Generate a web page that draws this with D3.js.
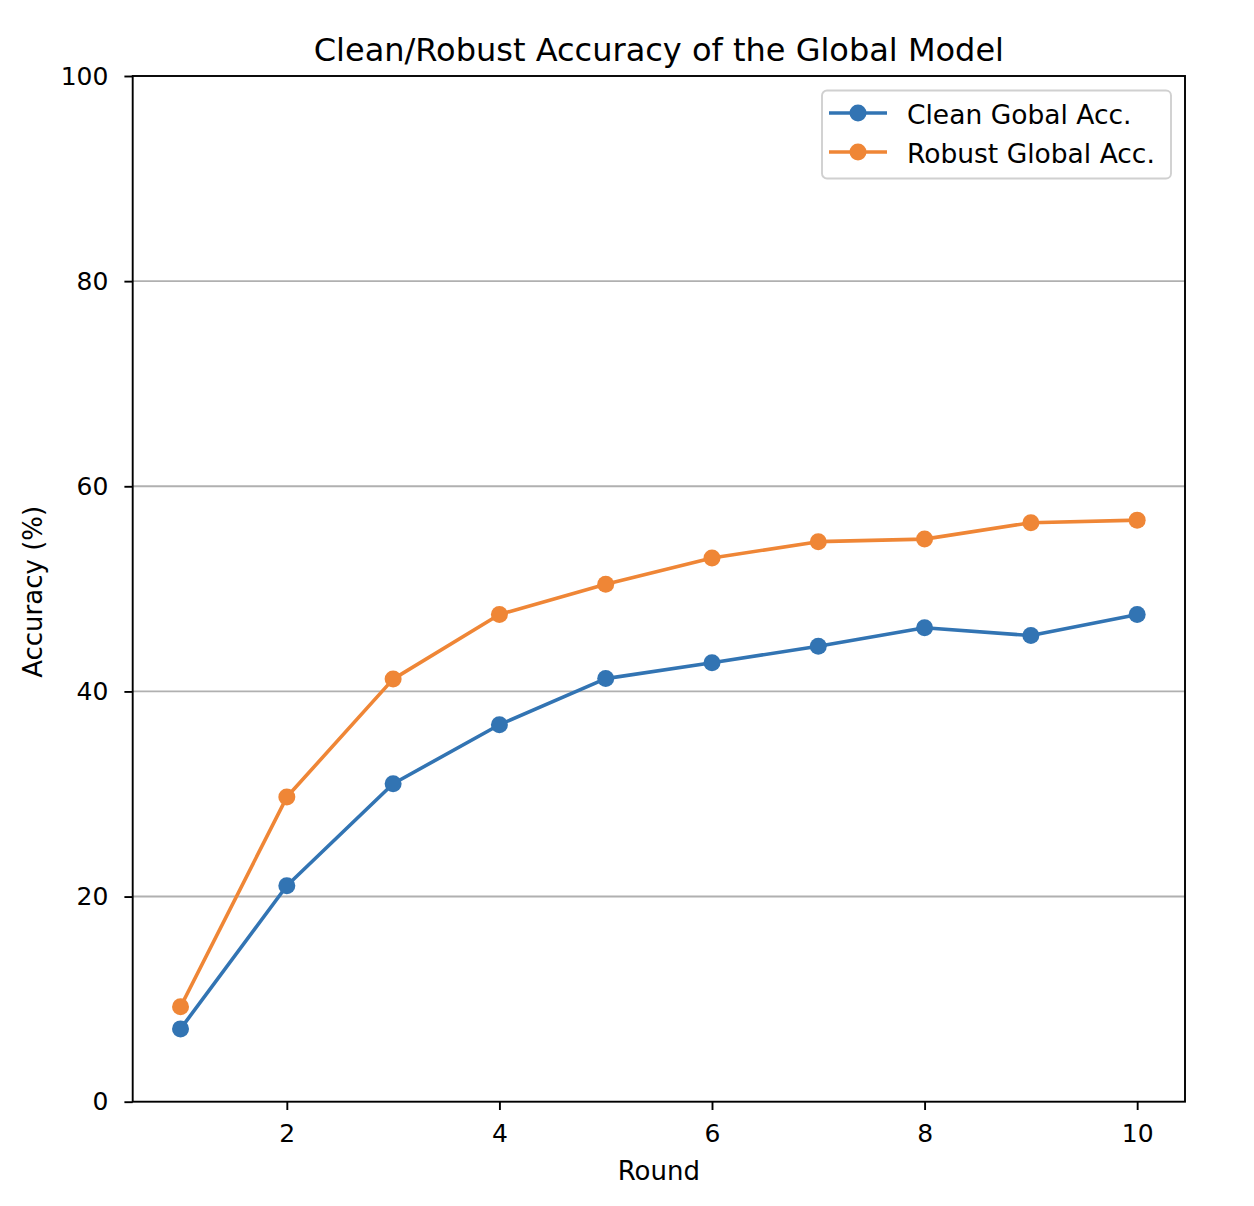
<!DOCTYPE html>
<html>
<head>
<meta charset="utf-8">
<script src="https://d3js.org/d3.v7.min.js"></script>
<style>
  body { margin: 0; background: #fff; }
  text { font-family: "DejaVu Sans", sans-serif; fill: #000; }
</style>
</head>
<body>
<svg width="1254" height="1206"></svg>
<script>
var rounds = [1, 2, 3, 4, 5, 6, 7, 8, 9, 10];
var cleanAcc = [7.1, 21.05, 31.0, 36.75, 41.25, 42.8, 44.4, 46.2, 45.45, 47.5];
var robustAcc = [9.25, 29.7, 41.2, 47.5, 50.45, 53.0, 54.6, 54.85, 56.45, 56.7];
var seriesNames = ["Clean Gobal Acc.", "Robust Global Acc."];
var seriesColors = ["#3274b3", "#ef8636"];
var yTicks = [0, 20, 40, 60, 80, 100];
var xTicks = [2, 4, 6, 8, 10];

var svg = d3.select("svg");
var pL = 132.7, pR = 1185, pT = 76, pB = 1101.7;

var x = d3.scaleLinear().domain([0.55, 10.45]).range([pL, pR]);
var y = d3.scaleLinear().domain([0, 100]).range([pB, pT]);

// grid
svg.append("g").selectAll("line")
  .data(yTicks.filter(function(d) { return d > 0 && d < 100; }))
  .enter().append("line")
  .attr("x1", pL).attr("x2", pR)
  .attr("y1", function(d) { return y(d); })
  .attr("y2", function(d) { return y(d); })
  .attr("stroke", "#b0b0b0")
  .attr("stroke-width", 1.9);

// axes
var xAxis = svg.append("g")
  .attr("transform", "translate(0," + pB + ")")
  .call(d3.axisBottom(x).tickValues(xTicks).tickSize(8.3).tickPadding(14).tickFormat(d3.format("d")));
var yAxis = svg.append("g")
  .attr("transform", "translate(" + pL + ",0)")
  .call(d3.axisLeft(y).tickValues(yTicks).tickSize(8.3).tickPadding(16).tickFormat(d3.format("d")));
[xAxis, yAxis].forEach(function(a) {
  a.select(".domain").remove();
  a.selectAll("line").attr("stroke", "#000").attr("stroke-width", 1.9);
  a.selectAll("text").attr("font-size", 25).attr("fill", "#000")
    .style("font-family", "DejaVu Sans, sans-serif");
});

// frame
svg.append("rect")
  .attr("x", pL).attr("y", pT)
  .attr("width", pR - pL).attr("height", pB - pT)
  .attr("fill", "none").attr("stroke", "#000").attr("stroke-width", 1.9);

// lines
var series = [cleanAcc, robustAcc];
var line = d3.line()
  .x(function(d, i) { return x(rounds[i]); })
  .y(function(d) { return y(d); });

series.forEach(function(vals, k) {
  svg.append("path")
    .datum(vals)
    .attr("d", line)
    .attr("fill", "none")
    .attr("stroke", seriesColors[k])
    .attr("stroke-width", 3.6)
    .attr("stroke-linejoin", "round")
    .attr("stroke-linecap", "square");
  svg.append("g").selectAll("circle")
    .data(vals)
    .enter().append("circle")
    .attr("cx", function(d, i) { return x(rounds[i]); })
    .attr("cy", function(d) { return y(d); })
    .attr("r", 8.5)
    .attr("fill", seriesColors[k]);
});

// titles
svg.append("text")
  .attr("x", (pL + pR) / 2).attr("y", 61)
  .attr("text-anchor", "middle").attr("font-size", 32)
  .text("Clean/Robust Accuracy of the Global Model");
svg.append("text")
  .attr("x", (pL + pR) / 2).attr("y", 1180)
  .attr("text-anchor", "middle").attr("font-size", 26)
  .text("Round");
svg.append("text")
  .attr("transform", "translate(42," + ((pT + pB) / 2 + 3) + ") rotate(-90)")
  .attr("text-anchor", "middle").attr("font-size", 26)
  .text("Accuracy (%)");

// legend
var lg = svg.append("g").attr("transform", "translate(822,90.5)");
lg.append("rect")
  .attr("width", 349).attr("height", 88)
  .attr("rx", 5).attr("ry", 5)
  .attr("fill", "#fff").attr("fill-opacity", 0.8)
  .attr("stroke", "#d0d0d0").attr("stroke-width", 1.9);
seriesNames.forEach(function(name, k) {
  var yy = 22.5 + k * 39;
  lg.append("line")
    .attr("x1", 7).attr("x2", 65).attr("y1", yy).attr("y2", yy)
    .attr("stroke", seriesColors[k]).attr("stroke-width", 3.6);
  lg.append("circle")
    .attr("cx", 36).attr("cy", yy).attr("r", 8.5)
    .attr("fill", seriesColors[k]);
  lg.append("text")
    .attr("x", 85).attr("y", yy + 10.5)
    .attr("font-size", 26.5)
    .text(name);
});
</script>
</body>
</html>
